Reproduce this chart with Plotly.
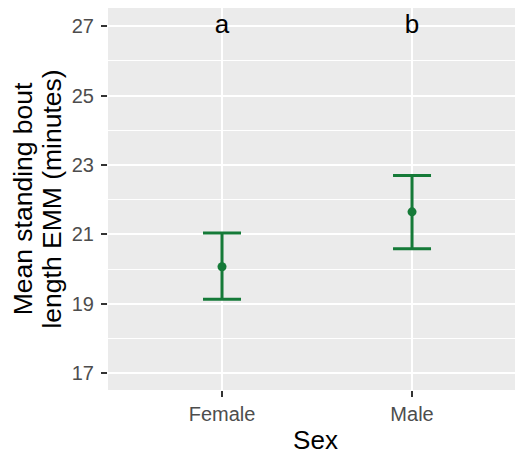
import plotly.graph_objects as go

sex = ["Female", "Male"]
emm = [20.07, 21.65]
lower = [19.13, 20.59]
upper = [21.04, 22.70]
letters = ["a", "b"]
letter_y = [27, 27]
y_title_lines = ["Mean standing bout", "length EMM (minutes)"]

green = "#157A38"

fig = go.Figure()
fig.add_trace(go.Scatter(
    x=sex, y=emm, mode="markers",
    marker=dict(color=green, size=9),
    error_y=dict(type="data", symmetric=False,
                 array=[u - m for u, m in zip(upper, emm)],
                 arrayminus=[m - l for m, l in zip(emm, lower)],
                 color=green, thickness=3, width=19),
    showlegend=False,
))
fig.add_trace(go.Scatter(
    x=sex, y=letter_y, mode="text", text=letters,
    textfont=dict(size=26, color="black", family="Liberation Sans, Arial"),
    textposition="middle center", showlegend=False,
))

# two-line y-axis title
for txt, xp in zip(y_title_lines, [-0.204, -0.136]):
    fig.add_annotation(
        text=txt, xref="paper", yref="paper", x=xp, y=0.5,
        xanchor="center", yanchor="middle", textangle=-90, showarrow=False,
        borderpad=0,
        font=dict(size=26.5, color="black", family="Liberation Sans, Arial"),
    )

fig.update_layout(
    width=523, height=454,
    margin=dict(l=100, r=8, t=0, b=72),
    paper_bgcolor="white", plot_bgcolor="#EBEBEB",
    font=dict(family="Liberation Sans, Arial", color="#4D4D4D"),
)
fig.update_xaxes(
    type="category", range=[-0.6, 1.584],
    showgrid=True, gridcolor="white", gridwidth=2,
    ticks="outside", ticklen=6, tickwidth=2, tickcolor="#333333",
    tickfont=dict(size=20, color="#4D4D4D"),
    title=dict(text="Sex", font=dict(size=26, color="black"), standoff=6),
    zeroline=False, showline=False,
)
fig.update_yaxes(
    range=[16.52, 27.52], tick0=17, dtick=2,
    showgrid=True, gridcolor="white", gridwidth=2,
    minor=dict(dtick=1, tick0=17, showgrid=True, gridcolor="white", gridwidth=1, ticklen=0),
    ticks="outside", ticklen=6, tickwidth=2, tickcolor="#333333",
    ticklabelstandoff=3,
    tickfont=dict(size=20, color="#4D4D4D"),
    zeroline=False, showline=False,
)

fig.write_html("out.html")
